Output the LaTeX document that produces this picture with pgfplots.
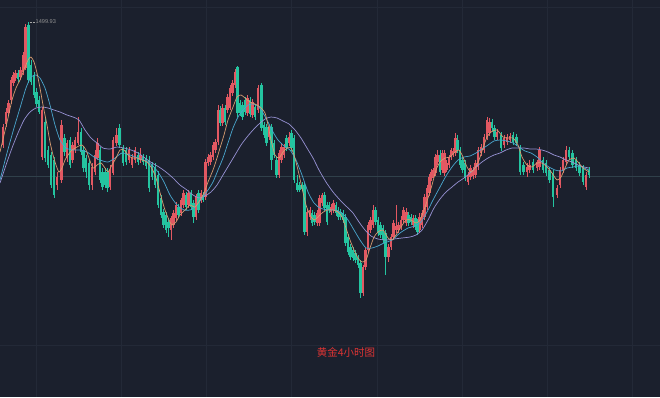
\documentclass[border=0pt]{standalone}
\usepackage{pgfplots}
\pgfplotsset{compat=1.18}
\usepackage{pgfplotstable}
\usepackage{fontspec}
\setmainfont{Liberation Sans}
\newfontfamily\cjk{Noto Sans CJK SC}
\definecolor{bgcol}{RGB}{27,32,45}
\definecolor{gridcol}{RGB}{35,41,55}
\definecolor{pricecol}{RGB}{48,64,74}
\definecolor{candred}{RGB}{226,88,98}
\definecolor{candgreen}{RGB}{36,196,160}
\definecolor{maorange}{RGB}{214,156,112}
\definecolor{mablue}{RGB}{74,166,206}
\definecolor{malav}{RGB}{150,145,210}
\definecolor{titlered}{RGB}{222,52,52}

% candle data: pixel-row scale (top = 0), columns x open high low close
\pgfplotstableread{
x o h l c
3 145 124 148 127
6 124 108 127 112
8.5 113 100 116 103
11 100 77 104 80
13.5 83 72 86 75
15.5 78 70 81 73
20.5 77 67 80 70
23 72 52 75 55
25.5 68 24 70 27
42 157 107 160 110
57 185 172 190 177
61.5 180 120 183 125
67 158 140 162 143
72.5 160 142 163 145
75 150 137 153 140
78 143 117 145 132
92 185 163 190 167
95 172 150 175 155
97.5 158 138 160 143
110 187 165 190 170
113 173 137 175 140
116.5 143 128 146 135
129 160 147 163 150
132 165 154 168 157
135 160 147 163 150
140.5 160 148 163 155
171 230 216 240 218
173.5 225 210 228 213
176 218 202 221 205
181 213 198 216 200
183.5 205 190 208 193
188.5 205 190 208 193
196 217 194 220 197
201 200 190 203 193
205.5 197 159 200 162
208 163 154 166 157
210.5 162 152 165 155
213 157 142 160 145
215.5 150 139 153 142
218 142 105 145 110
222.5 123 104 126 108
227.5 110 94 113 97
230 108 85 110 88
232.5 93 80 96 83
235 85 69 88 72
247.5 113 95 116 98
252.5 115 99 118 102
258 110 85 113 88
269 137 125 140 128
279 175 150 178 153
281.5 160 143 163 147
284 155 144 158 147
289 143 132 146 137
307 232 209 236 212
310 217 207 220 210
317 223 210 226 213
319.5 223 195 226 198
322 203 193 206 195
331 212 204 215 207
333.5 210 200 213 203
363 293 265 296 267
365.5 267 248 270 250
368 250 222 253 225
370.5 230 217 233 220
373 225 205 228 210
388.5 257 244 262 247
391 247 234 250 237
393.5 237 220 240 223
396 230 205 233 226
398.5 230 222 233 225
401 227 216 230 220
403.5 220 207 223 210
406.5 223 208 226 212
413 225 215 228 218
419.5 230 213 233 217
422 225 210 228 213
424.5 217 194 220 197
427 207 185 210 188
429.5 193 174 196 177
431.5 178 169 181 172
433.5 175 168 178 170
435.5 173 154 176 157
437.5 162 150 165 155
442 170 150 173 153
444.5 173 150 176 153
446.5 170 160 172 163
449 165 155 168 157
451 157 148 160 150
453 154 148 157 151
455.5 153 133 156 138
468 182 172 185 175
470.5 177 165 180 168
473 176 167 179 170
475.5 175 160 178 163
478 167 147 170 150
481 153 144 156 147
484 150 134 153 137
487 138 117 140 120
489.5 133 118 136 122
497 137 129 140 132
504 145 135 148 138
507 142 134 145 137
510 140 133 143 136
527 172 163 177 167
529.5 170 160 173 165
537 168 160 171 162
539.5 167 147 170 150
557 195 185 198 188
560 185 167 188 170
563 170 157 173 160
566 162 146 165 150
586 187 172 190 175
}\uptab

\pgfplotstableread{
x o h l c
18 73 70 82 79
28.5 25 22 83 80
31 65 60 85 82
34 75 72 98 95
36.5 92 88 107 104
39 100 96 114 112
45 122 118 162 158
48 150 146 168 165
51 155 152 188 185
54 160 157 198 195
64.5 138 134 156 152
70 140 137 168 165
81 132 128 155 152
83.5 150 146 172 168
86 158 155 178 172
89 163 160 190 185
100 150 147 183 180
102.5 172 168 190 187
105 172 168 188 185
107.5 172 168 192 188
119.5 128 124 148 145
123 148 145 166 163
126 150 147 165 162
138 155 152 165 162
143 157 154 165 162
146 158 155 169 166
149 160 156 192 188
152 165 162 180 177
155 167 163 188 185
158 175 171 208 205
161 198 195 218 215
163.5 212 209 228 225
166 215 212 233 230
168.5 222 218 237 228
178.5 207 204 218 215
186 195 192 210 207
191 193 190 210 207
193.5 203 200 223 217
198.5 193 190 213 210
203 195 192 202 200
220 110 106 126 123
225 108 105 125 122
237.5 67 66 117 113
240 103 100 116 113
242.5 105 102 120 117
245 100 97 115 112
250 100 97 117 114
255 107 104 120 117
261.5 85 83 131 128
264 125 122 138 135
266.5 127 124 146 143
271.5 127 124 170 160
274 143 140 158 155
276.5 160 157 178 175
286.5 138 135 151 148
291.5 133 130 151 148
294 138 135 183 180
297 183 175 192 190
299.5 185 182 192 190
302 185 182 191 189
304.5 185 183 235 232
312 213 210 226 223
314.5 215 212 225 222
324.5 195 192 211 208
327 205 202 225 222
329 205 202 213 210
336 205 202 216 213
338 210 207 220 217
340.5 212 209 220 217
343 213 210 223 220
345.5 217 214 246 243
348 237 234 255 252
350.5 247 244 260 257
353 250 247 261 258
355.5 253 250 263 260
358 258 255 268 265
360.5 263 260 298 293
375.5 210 207 225 222
378 220 217 236 233
380.5 225 222 238 235
383 228 225 243 240
385.5 233 230 275 257
408.5 215 212 226 223
411 217 214 225 222
415.5 218 215 230 227
417.5 222 219 235 232
440 155 150 175 172
457.5 140 135 153 150
460 150 147 168 165
462.5 160 157 173 170
465 163 160 181 178
492 122 119 131 128
494.5 128 125 140 137
501 135 132 151 148
513 135 132 145 142
516.5 137 134 146 143
520 148 145 175 172
523.5 165 162 175 172
533 162 159 173 170
543 160 157 173 170
546 163 160 176 173
549.5 170 167 183 180
553 173 170 207 197
569 150 147 160 157
572.5 153 150 168 165
576 160 157 171 168
579.5 165 162 176 173
583 168 165 185 182
589 170 167 178 175
}\downtab

\newcommand{\candles}[2]{%
\addplot[draw=none, mark=none, forget plot, error bars/.cd, y dir=both, y explicit, error mark=none,
  error bar style={draw=#2, line width=0.6pt}]
  table[x=x, y expr={(\thisrow{h}+\thisrow{l})/2}, y error expr={(\thisrow{l}-\thisrow{h})/2}] {#1};
\addplot[draw=none, mark=none, forget plot, error bars/.cd, y dir=both, y explicit, error mark=none,
  error bar style={draw=#2, line width=2.3pt}]
  table[x=x, y expr={(\thisrow{o}+\thisrow{c})/2}, y error expr={max(abs(\thisrow{o}-\thisrow{c})/2,0.5)}] {#1};
}

\begin{document}
\begin{tikzpicture}
\fill[bgcol] (0,0) rectangle (660pt,397pt);
\begin{axis}[
  at={(0,0)}, anchor=south west,
  width=660pt, height=397pt, scale only axis,
  xmin=0, xmax=660, ymin=0, ymax=397, y dir=reverse,
  axis line style={draw=none},
  major tick length=0pt,
  xtick={36,121,206,291,377,462,547,632},
  ytick={7,345},
  xticklabels={}, yticklabels={},
  grid=major, grid style={draw=gridcol, line width=0.5pt},
  clip=true,
]
\addplot[pricecol, line width=0.6pt, forget plot] coordinates {(0,176) (660,176)};

\candles{\uptab}{candred}
\candles{\downtab}{candgreen}

% MA20
\addplot[malav, line width=0.7pt, smooth, tension=0.4] coordinates {
(0,183)(6,165)(12,148)(18,133)(24,120)(30,112)(36,108)(42,107)(48,108)(54,110)(60,112)(67,115)(73,117)(79,120)(85,130)(91,138)(97,143)(103,148)(110,149)(117,147)(124,148)(131,150)(138,153)(145,158)(152,163)(159,167)(166,172)(173,178)(180,185)(187,190)(193,195)(199,198)(205,196)(211,192)(217,185)(223,175)(229,165)(235,155)(241,145)(247,137)(253,130)(259,124)(265,119)(271,117)(277,118)(283,121)(289,124)(295,130)(301,138)(307,148)(313,158)(319,170)(326,182)(333,192)(340,200)(347,207)(353,213)(359,222)(365,230)(371,236)(378,239)(386,240)(394,239)(402,238)(410,237)(416,235)(422,230)(428,220)(434,208)(440,199)(446,192)(452,187)(458,182)(464,178)(470,173)(476,167)(482,162)(488,158)(494,155)(500,153)(506,150)(512,148)(518,148)(524,148)(530,149)(536,149)(542,150)(548,152)(554,155)(560,157)(566,160)(572,162)(578,165)(584,167)(589,168)
};
% MA10
\addplot[mablue, line width=0.7pt, smooth, tension=0.4] coordinates {
(0,180)(7,153)(14,128)(20,108)(26,88)(31,77)(36,75)(40,78)(45,88)(50,105)(55,125)(60,140)(66,148)(73,150)(80,150)(87,152)(94,157)(100,160)(108,162)(115,158)(122,153)(130,155)(138,158)(146,161)(152,165)(158,172)(164,182)(170,195)(177,205)(184,210)(190,210)(196,206)(203,197)(208,190)(213,182)(218,170)(223,158)(228,143)(233,128)(238,117)(243,110)(248,105)(253,104)(258,106)(263,113)(268,122)(273,132)(278,140)(284,146)(290,150)(296,160)(302,175)(308,192)(314,203)(320,208)(328,210)(335,210)(342,213)(348,220)(354,230)(360,240)(366,248)(372,248)(378,246)(384,243)(392,240)(400,233)(408,228)(415,226)(421,222)(427,212)(433,200)(440,187)(446,176)(452,167)(458,160)(464,157)(470,156)(476,153)(482,149)(488,145)(494,141)(500,140)(507,141)(513,143)(519,147)(525,151)(531,153)(537,157)(543,163)(549,167)(555,170)(561,171)(567,168)(573,167)(579,166)(584,168)(589,170)
};
% MA5
\addplot[maorange, line width=0.7pt, smooth, tension=0.4] coordinates {
(0,152)(4,135)(8,118)(12,100)(16,88)(20,80)(24,70)(28,60)(31,57)(34,62)(37,73)(40,88)(43,105)(47,125)(50,142)(53,155)(56,165)(59,172)(62,168)(65,160)(68,155)(72,150)(77,147)(82,145)(86,150)(89,158)(93,168)(97,165)(101,163)(105,168)(108,172)(112,165)(116,158)(120,150)(124,150)(128,155)(132,158)(137,158)(142,160)(147,162)(151,167)(155,175)(158,185)(162,200)(165,210)(169,220)(172,225)(176,222)(180,215)(185,210)(190,205)(195,207)(200,200)(204,193)(208,182)(213,170)(217,158)(220,148)(224,135)(228,120)(233,107)(237,97)(241,95)(245,98)(250,102)(255,104)(260,107)(265,113)(268,125)(271,140)(275,155)(279,158)(283,152)(287,148)(291,148)(294,155)(298,170)(302,188)(306,205)(310,215)(314,220)(318,217)(322,213)(327,210)(333,210)(338,212)(342,217)(346,228)(350,240)(354,250)(358,258)(362,262)(366,260)(370,248)(374,237)(378,232)(383,230)(388,238)(392,240)(396,235)(401,227)(406,220)(411,220)(416,223)(420,220)(424,210)(428,198)(432,185)(436,170)(440,162)(445,158)(450,157)(455,152)(459,150)(463,157)(467,167)(471,172)(475,168)(479,160)(483,148)(487,137)(491,132)(497,130)(503,137)(508,138)(513,138)(518,145)(522,157)(527,165)(532,167)(537,163)(542,163)(547,167)(552,173)(557,180)(561,177)(565,168)(569,160)(574,158)(578,162)(583,168)(589,172)
};

\draw[densely dotted, gray!70, line width=0.4pt] (axis cs:30,22) -- (axis cs:35,22);
\node[anchor=west, inner sep=0.5pt, text=gray!85, font=\fontsize{5.6}{6.5}\selectfont] at (axis cs:35,22) {1499.93};
\node[text=titlered, font=\cjk\fontsize{10.5}{12}\selectfont] at (axis cs:346,352) {黄金4小时图};
\end{axis}
\pgfresetboundingbox
\path (0,0) rectangle (660pt,397pt);
\end{tikzpicture}
\end{document}
